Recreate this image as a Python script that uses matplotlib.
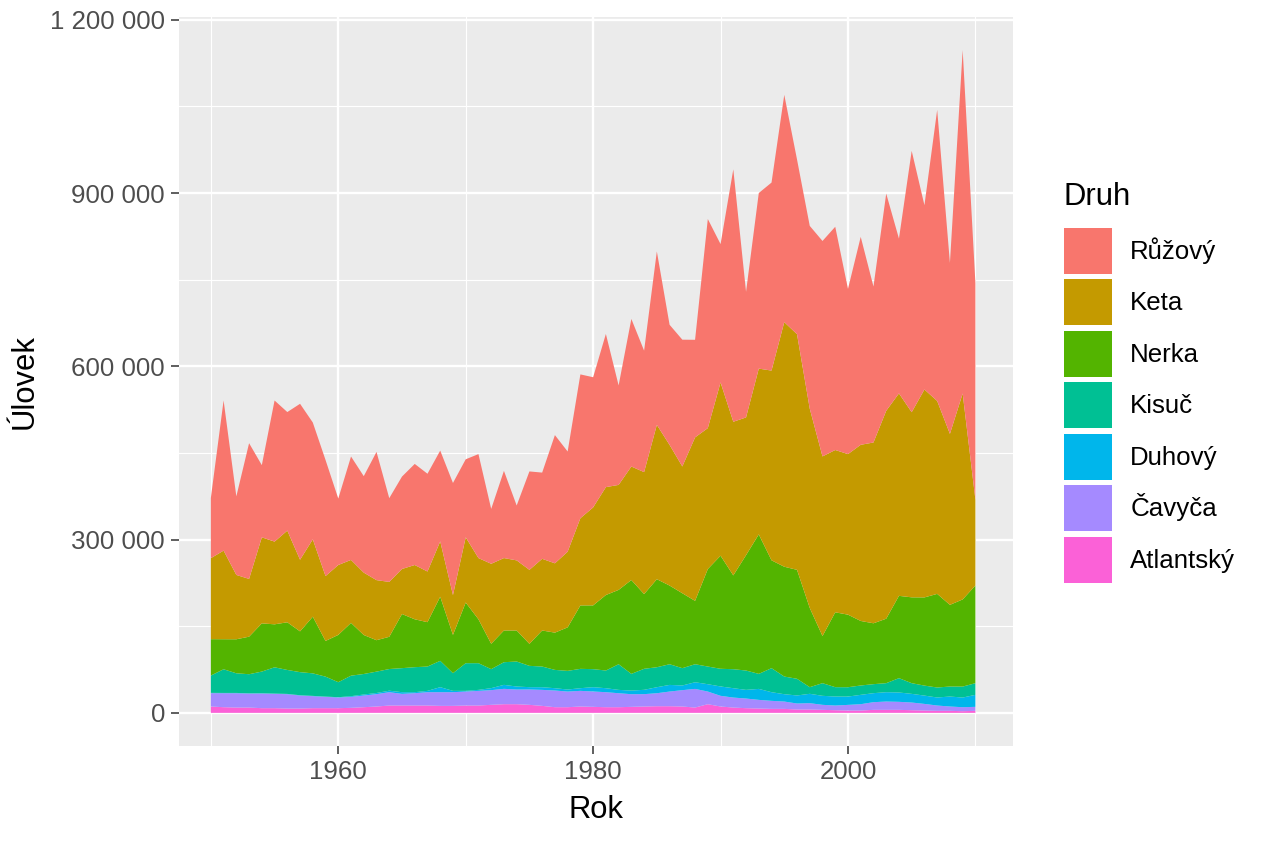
import numpy as np
import matplotlib
matplotlib.use("Agg")
import matplotlib.pyplot as plt
from matplotlib.ticker import FuncFormatter
from matplotlib.patches import Patch

plt.rcParams['font.family'] = ['Liberation Sans', 'DejaVu Sans']

years = list(range(1950, 2011))

# catch per species, thousands of fish
atlantsky = [11.0, 9.8, 9.2, 9.2, 8.1, 8.1, 7.5, 7.5, 8.1, 8.1, 8.1, 8.7, 9.8, 11.0, 12.7,
             12.7, 12.7, 12.7, 12.1, 12.1, 12.7, 12.7, 13.9, 15.0, 15.0, 13.9, 12.1, 9.8, 9.8, 11.0,
             10.4, 9.8, 9.8, 10.4, 11.0, 11.5, 11.5, 11.0, 9.2, 15.0, 11.0, 9.2, 8.1, 7.5, 6.9,
             6.9, 5.8, 5.8, 5.2, 4.6, 4.0, 4.0, 5.2, 5.2, 5.2, 4.6, 4.0, 3.5, 3.5, 2.9, 3.5]
cavyca = [23.1, 24.2, 24.8, 24.2, 25.4, 24.8, 24.8, 22.5, 20.8, 19.6, 18.5, 19.0, 20.2, 21.4, 23.1,
          20.2, 21.4, 23.1, 23.7, 23.7, 24.2, 25.4, 25.4, 26.6, 25.4, 26.6, 27.7, 28.9, 27.1, 27.1,
          26.6, 26.0, 24.2, 21.9, 21.4, 22.5, 25.4, 28.3, 32.3, 21.9, 18.5, 17.3, 16.7, 15.0, 13.9,
          12.7, 10.4, 11.0, 8.7, 8.1, 9.8, 11.0, 13.3, 14.4, 13.9, 13.3, 11.5, 9.2, 7.5, 6.9, 6.9]
duhovy = [0.5, 0.5, 0.5, 0.5, 0.5, 0.5, 0.5, 0.5, 0.5, 0.5, 0.5, 1.2, 1.8, 2.0, 2.6,
          2.9, 1.7, 2.3, 8.7, 2.3, 1.2, 1.7, 3.5, 6.9, 5.2, 4.0, 4.6, 4.0, 3.5, 4.6,
          7.5, 6.9, 5.8, 6.3, 7.5, 10.4, 11.5, 8.1, 11.5, 12.7, 16.2, 16.2, 15.0, 19.0, 15.0,
          12.7, 13.9, 16.2, 15.6, 15.6, 14.4, 16.2, 15.6, 16.2, 16.2, 15.0, 14.4, 13.9, 17.3, 16.7, 20.8]
kisuc = [30.0, 41.0, 34.0, 33.0, 37.5, 45.5, 41.5, 40.0, 39.0, 34.5, 26.0, 35.5, 35.5, 37.0, 37.5,
         41.6, 43.3, 42.1, 45.6, 30.6, 47.9, 46.2, 32.9, 39.2, 43.3, 36.9, 35.8, 31.7, 32.3, 33.5,
         31.2, 30.6, 44.4, 28.9, 36.4, 34.6, 35.8, 30.0, 31.2, 30.6, 30.6, 32.9, 33.5, 26.0, 41.6,
         30.6, 28.9, 11.5, 21.9, 16.2, 16.2, 16.2, 15.6, 15.6, 24.8, 18.5, 17.3, 17.3, 17.3, 19.0, 20.2]
nerka = [63.0, 52.0, 58.9, 65.0, 83.4, 74.4, 82.5, 70.6, 98.1, 61.8, 81.9, 91.4, 67.5, 54.4, 55.8,
         93.7, 82.9, 76.8, 111.0, 66.3, 105.0, 76.0, 43.9, 54.9, 53.7, 38.1, 62.4, 64.5, 75.3, 109.8,
         110.4, 130.7, 128.7, 162.5, 129.3, 152.4, 136.2, 129.7, 109.7, 168.8, 195.8, 162.4, 199.7, 241.5, 186.7,
         190.1, 188.6, 137.1, 81.6, 129.6, 125.6, 111.7, 105.4, 111.6, 142.5, 148.6, 152.7, 162.1, 141.4, 150.9, 169.1]
keta = [140.2, 153.4, 111.4, 100.0, 149.0, 143.2, 158.7, 124.0, 133.9, 112.3, 121.0, 109.0, 108.0, 104.0, 95.0,
        78.0, 94.0, 87.7, 95.7, 69.0, 113.0, 106.0, 138.5, 125.4, 121.4, 128.1, 124.1, 120.0, 131.0, 151.0,
        169.6, 186.8, 181.8, 196.5, 211.2, 267.2, 243.5, 219.5, 283.0, 244.0, 300.0, 266.0, 238.5, 287.0, 328.5,
        423.5, 408.0, 345.0, 311.0, 281.0, 278.0, 305.0, 313.0, 360.0, 350.5, 320.5, 360.0, 334.0, 296.0, 356.5, 148.5]
ruzovy = [104.2, 260.0, 136.0, 235.0, 125.0, 244.3, 205.3, 270.0, 202.3, 201.0, 115.0, 179.0, 167.0, 222.0, 145.0,
          160.0, 175.0, 169.3, 157.3, 194.0, 135.0, 180.0, 95.0, 151.0, 95.0, 170.4, 149.3, 222.0, 173.5, 249.0,
          225.4, 265.2, 172.2, 255.5, 210.3, 300.3, 208.0, 219.5, 169.0, 362.0, 239.5, 437.0, 217.5, 304.0, 325.5,
          393.5, 302.5, 316.5, 373.0, 386.5, 286.0, 360.0, 270.0, 376.0, 268.0, 452.5, 319.0, 504.0, 296.0, 594.5, 375.0]

# legend order (top of the stack first)
druhy = ['Růžový', 'Keta', 'Nerka', 'Kisuč', 'Duhový', 'Čavyča', 'Atlantský']
barvy = ['#F8766D', '#C49A00', '#53B400', '#00C094', '#00B6EB', '#A58AFF', '#FB61D7']

W, H = 1264, 843


def main():
    series = [ruzovy, keta, nerka, kisuc, duhovy, cavyca, atlantsky]
    data = np.array(series[::-1]) * 1000  # bottom layer first

    fig = plt.figure(figsize=(W / 100, H / 100), dpi=100)
    ax = fig.add_axes([179 / W, 1 - 746 / H, (1013 - 179) / W, (746 - 17) / H])
    ax.set_facecolor('#EBEBEB')

    ax.stackplot(years, data, colors=barvy[::-1], linewidth=0, zorder=2)

    top = data.sum(axis=0).max()
    ax.set_ylim(-0.05 * top, 1.05 * top)
    ax.set_xlim(1947.5, 2012.95)

    ax.set_xticks([1960, 1980, 2000])
    ax.set_xticks([1950, 1970, 1990, 2010], minor=True)
    ax.set_yticks([0, 300000, 600000, 900000, 1200000])
    ax.set_yticks([150000, 450000, 750000, 1050000], minor=True)
    ax.yaxis.set_major_formatter(FuncFormatter(lambda v, p: f"{v:,.0f}".replace(",", " ")))

    ax.grid(which='major', color='white', linewidth=1.7, zorder=1)
    ax.grid(which='minor', color='white', linewidth=0.85, zorder=1)
    ax.set_axisbelow(True)
    for s in ax.spines.values():
        s.set_visible(False)

    ax.tick_params(which='major', length=5.5, width=1.1, color='#333333',
                   labelsize=18.6, labelcolor='#4D4D4D', pad=4.6)
    ax.tick_params(which='minor', length=0)

    ax.set_xlabel('Rok', fontsize=22.3, labelpad=8)
    ax.set_ylabel('Úlovek', fontsize=22.3, labelpad=7.5)

    fig.text(1064 / W, 1 - 205 / H, 'Druh', fontsize=22.3, ha='left', va='baseline')
    handles = [Patch(facecolor=c, edgecolor='none') for c in barvy]
    fig.legend(handles, druhy, loc='upper left',
               bbox_to_anchor=(1064 / W, 1 - 228 / H), frameon=False,
               fontsize=18.6, handlelength=1.86, handleheight=2.35,
               labelspacing=0.22, handletextpad=0.7, borderpad=0, borderaxespad=0)

    fig.savefig('out.png', dpi=100)


if __name__ == "__main__":
    main()
